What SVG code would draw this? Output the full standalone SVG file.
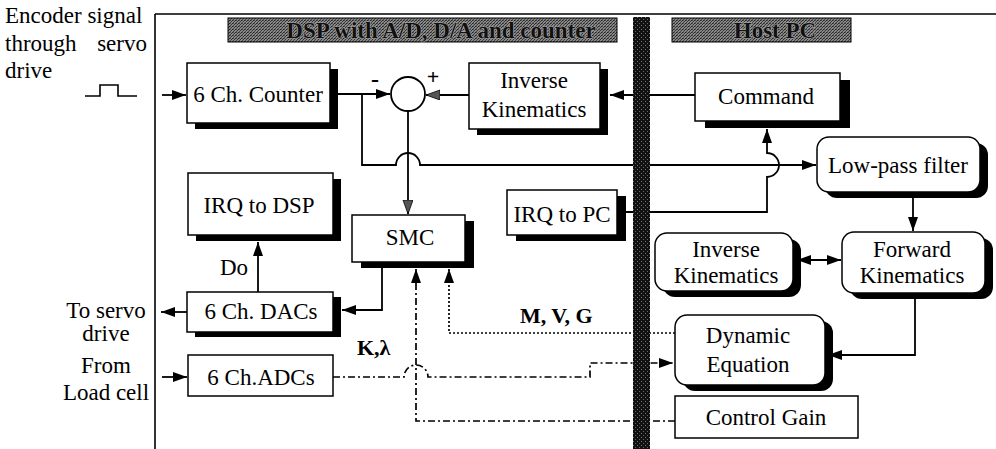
<svg xmlns="http://www.w3.org/2000/svg" width="996" height="449" viewBox="0 0 996 449" font-family="'Liberation Serif', 'Times New Roman', Times, 'DejaVu Serif', serif">
<defs>
<style>
text{font-family:'Liberation Serif','Times New Roman',Times,'DejaVu Serif',serif;fill:#000}
.t{font-size:23px;text-anchor:middle}
.lbl{font-size:23px}
.b{font-weight:bold}
.box{fill:#fff;stroke:#000;stroke-width:1.5}
.sh{fill:#000}
.ln{fill:none;stroke:#000;stroke-width:1.8}
.dot{fill:none;stroke:#000;stroke-width:1.7;stroke-dasharray:2 2}
.dd{fill:none;stroke:#000;stroke-width:1.7;stroke-dasharray:7 3 2 3}
.hdr{fill:url(#hatch);stroke:#000;stroke-width:1}
.ht{font-size:23px;font-weight:bold;text-anchor:middle;fill:#111;stroke:#aaa;stroke-width:1.2;paint-order:stroke}
</style>
<pattern id="hatch" width="3" height="3" patternUnits="userSpaceOnUse">
<rect width="3" height="3" fill="#888"/>
<rect width="1" height="1" fill="#333"/>
<rect x="2" y="1" width="1" height="1" fill="#444"/>
<rect x="1" y="2" width="1" height="1" fill="#222"/>
<rect x="2" y="2" width="1" height="1" fill="#555"/>
</pattern>
<pattern id="bar" width="4" height="4" patternUnits="userSpaceOnUse">
<rect width="4" height="4" fill="#111"/>
<rect x="1" y="1" width="1" height="1" fill="#777"/>
<rect x="3" y="3" width="1" height="1" fill="#666"/>
</pattern>
<marker id="ah" markerUnits="userSpaceOnUse" markerWidth="15" markerHeight="11" refX="14" refY="5" orient="auto-start-reverse">
<path d="M0,0 L14,5 L0,10 Z" fill="#000"/>
</marker>
<marker id="ag" markerUnits="userSpaceOnUse" markerWidth="15" markerHeight="11" refX="14" refY="5" orient="auto">
<path d="M0,0 L14,5 L0,10 Z" fill="#555" stroke="#000" stroke-width="0.8"/>
</marker>
</defs>

<!-- frame -->
<g id="frame">
<path d="M155,14 H996 M155,14 V449" fill="none" stroke="#000" stroke-width="1.6"/>
</g>

<!-- left labels -->
<g id="left-labels">
<text class="lbl" x="5" y="23">Encoder signal</text>
<text class="lbl" x="5" y="51">through</text>
<text class="lbl" x="147" y="51" text-anchor="end">servo</text>
<text class="lbl" x="5" y="78">drive</text>
<path d="M85,96 H100 V85 H118 V96 H137" fill="none" stroke="#000" stroke-width="1.6"/>
<text class="t" x="106" y="318">To servo</text>
<text class="t" x="106" y="341">drive</text>
<text class="t" x="106" y="373">From</text>
<text class="t" x="106" y="400">Load cell</text>
</g>

<!-- connectors -->
<g id="connectors">
<path class="ln" d="M162,95 H186" marker-end="url(#ah)"/>
<path class="ln" d="M338,94 H390" marker-end="url(#ah)"/>
<path class="ln" d="M362,94 V165 H396 A12,12 0 0 1 420,165 H816" marker-end="url(#ah)"/>
<path class="ln" d="M469,95 H426" marker-end="url(#ag)"/>
<path class="ln" d="M408,111 V214" marker-end="url(#ag)"/>
<path class="ln" d="M695,95 H610" marker-end="url(#ah)"/>
<path class="ln" d="M625,212 H767 V177 A12,12 0 0 0 767,153 V129" marker-end="url(#ah)"/>
<path class="ln" d="M913,198 V231" marker-end="url(#ah)"/>
<path class="ln" d="M797,260 H841" marker-start="url(#ah)" marker-end="url(#ah)"/>
<path class="ln" d="M915,299 V355 H828" marker-end="url(#ah)"/>
<path class="ln" d="M382,268 V310 H342" marker-end="url(#ah)"/>
<path class="ln" d="M187,312 H161" marker-end="url(#ah)"/>
<path class="ln" d="M258,292 V242" marker-end="url(#ah)"/>
<path class="ln" d="M162,377 H187" marker-end="url(#ah)"/>
<path class="dd" d="M333,377 H404 A12,12 0 0 1 428,377 H590 V363 H673" marker-end="url(#ah)"/>
<path class="dd" d="M675,421 H416 V269" marker-end="url(#ah)"/>
<path class="dot" d="M675,333 H449 V269" marker-end="url(#ah)"/>
<text class="lbl" x="220" y="275">Do</text>
<text class="b" x="520" y="323" font-size="22">M, V, G</text>
<text class="b" x="357" y="355" font-size="22">K,λ</text>
</g>

<!-- headers -->
<g id="hdr-dsp">
<rect class="hdr" x="228" y="18" width="389" height="24"/>
<text class="ht" x="441" y="38">DSP with A/D, D/A and counter</text>
</g>
<g id="hdr-host">
<rect class="hdr" x="672" y="18" width="179" height="24"/>
<text class="ht" x="775" y="38">Host PC</text>
</g>

<!-- divider bar -->
<g id="divider">
<rect x="633" y="17" width="17" height="432" fill="url(#bar)"/>
</g>

<!-- nodes -->
<g id="counter">
<rect class="sh" x="195" y="69" width="143" height="60"/>
<rect class="box" x="187" y="63" width="143" height="60"/>
<text class="t" x="258" y="102">6 Ch. Counter</text>
</g>
<g id="sum">
<circle cx="408" cy="94" r="17" fill="#fff" stroke="#000" stroke-width="1.8"/>
<text class="b" x="375" y="87" font-size="24" text-anchor="middle">-</text>
<text class="b" x="433" y="84" font-size="22" text-anchor="middle">+</text>
</g>
<g id="ik-dsp">
<rect class="sh" x="477" y="69" width="131" height="66"/>
<rect class="box" x="469" y="63" width="131" height="66"/>
<text class="t" x="534" y="88">Inverse</text>
<text class="t" x="534" y="117">Kinematics</text>
</g>
<g id="command">
<rect class="sh" x="705" y="80" width="145" height="48"/>
<rect class="box" x="695" y="73" width="145" height="48"/>
<text class="t" x="766" y="104">Command</text>
</g>
<g id="irq-dsp">
<rect class="sh" x="196" y="179" width="145" height="62"/>
<rect class="box" x="188" y="173" width="145" height="62"/>
<text class="t" x="259" y="213">IRQ to DSP</text>
</g>
<g id="smc">
<rect class="sh" x="361" y="221" width="113" height="47"/>
<rect class="box" x="352" y="215" width="113" height="47"/>
<text class="t" x="410" y="245">SMC</text>
</g>
<g id="irq-pc">
<rect class="sh" x="516" y="196" width="110" height="45"/>
<rect class="box" x="507" y="190" width="110" height="45"/>
<text class="t" x="562" y="222">IRQ to PC</text>
</g>
<g id="lpf">
<rect class="sh" x="825" y="143" width="163" height="55" rx="12"/>
<rect class="box" x="817" y="137" width="163" height="55" rx="12"/>
<text class="t" x="898" y="173">Low-pass filter</text>
</g>
<g id="ik-host">
<rect class="sh" x="663" y="239" width="138" height="58" rx="12"/>
<rect class="box" x="655" y="233" width="138" height="58" rx="12"/>
<text class="t" x="726" y="257">Inverse</text>
<text class="t" x="726" y="283">Kinematics</text>
</g>
<g id="fk">
<rect class="sh" x="850" y="238" width="143" height="61" rx="12"/>
<rect class="box" x="842" y="232" width="143" height="61" rx="12"/>
<text class="t" x="912" y="257">Forward</text>
<text class="t" x="912" y="283">Kinematics</text>
</g>
<g id="dacs">
<rect class="sh" x="195" y="297" width="146" height="40"/>
<rect class="box" x="187" y="292" width="146" height="40"/>
<text class="t" x="261" y="319">6 Ch. DACs</text>
</g>
<g id="adcs">
<rect class="box" x="188" y="355" width="145" height="41"/>
<text class="t" x="261" y="385">6 Ch.ADCs</text>
</g>
<g id="dyn">
<rect class="sh" x="683" y="321" width="150" height="70" rx="12"/>
<rect class="box" x="675" y="315" width="150" height="70" rx="12"/>
<text class="t" x="748" y="343">Dynamic</text>
<text class="t" x="748" y="372">Equation</text>
</g>
<g id="gain">
<rect class="box" x="675" y="396" width="183" height="42"/>
<text class="t" x="766" y="425">Control Gain</text>
</g>
</svg>
